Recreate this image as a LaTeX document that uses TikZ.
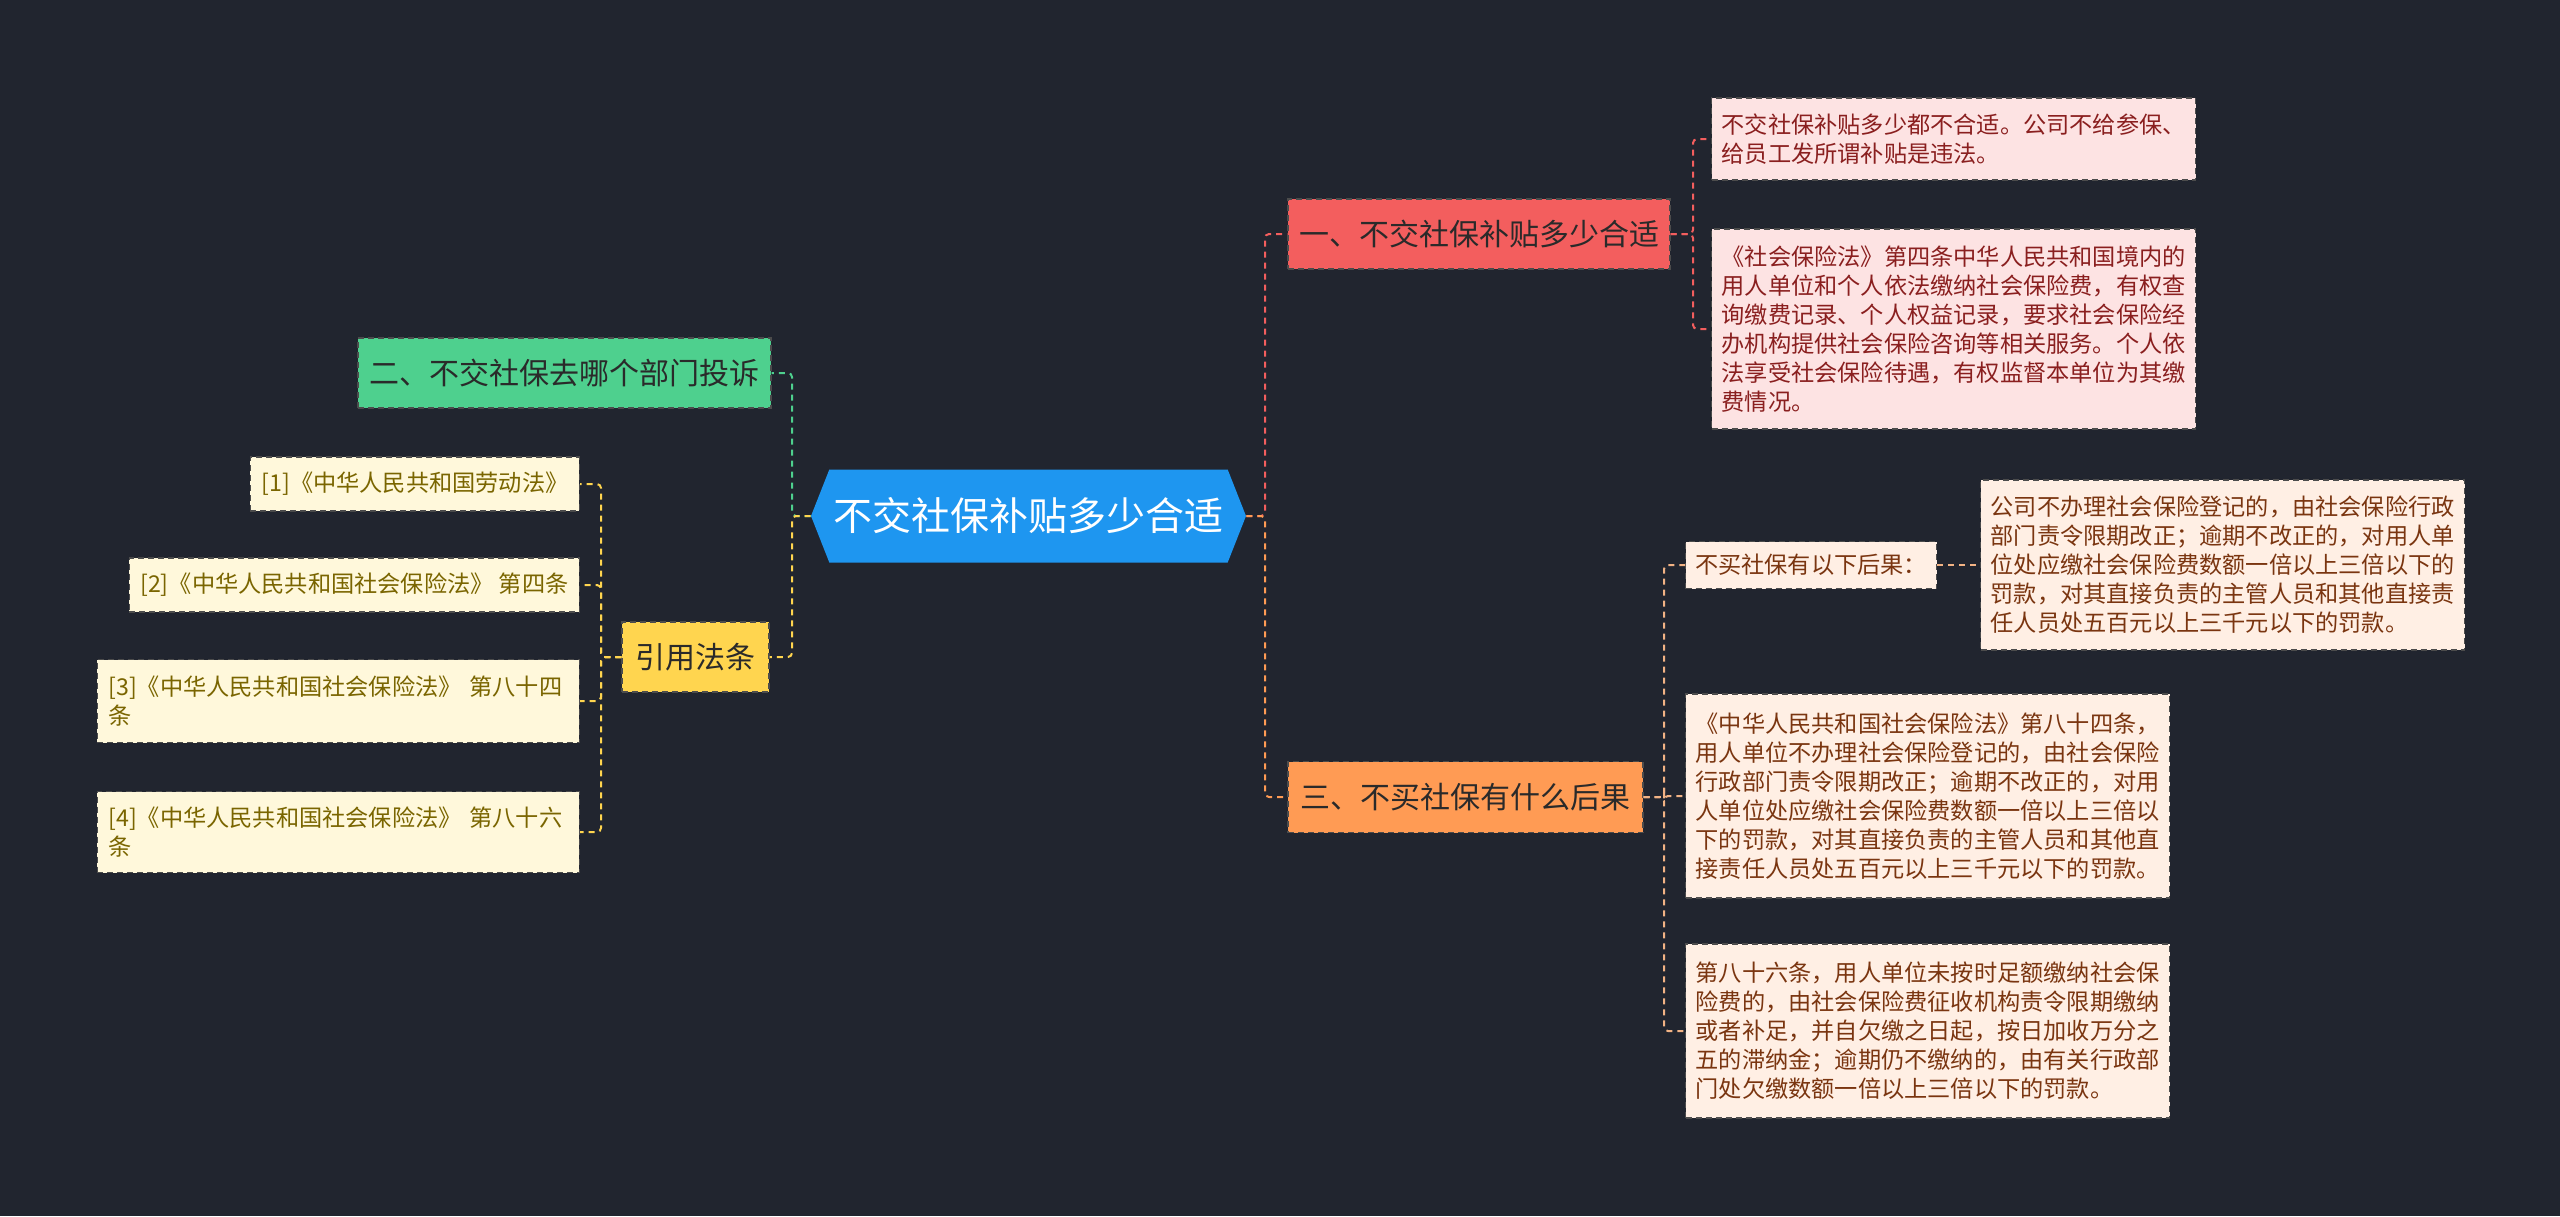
\documentclass[tikz,border=0pt]{standalone}
\usepackage{fontspec}
\setmainfont{Noto Sans CJK SC}
\usepackage{tikz}
\usetikzlibrary{shapes.symbols,positioning}
\definecolor{bg}{HTML}{21252F}
\definecolor{rootblue}{HTML}{1E96F0}
\definecolor{coral}{HTML}{F35E5E}
\definecolor{blush}{HTML}{FDE3E3}
\definecolor{wine}{HTML}{8A1F1F}
\definecolor{mint}{HTML}{4ED08E}
\definecolor{gold}{HTML}{FFD54F}
\definecolor{cream}{HTML}{FFF8DB}
\definecolor{olive}{HTML}{7A6500}
\definecolor{tangerine}{HTML}{FF9B54}
\definecolor{peach}{HTML}{FFEFE4}
\definecolor{rust}{HTML}{7A3510}
\definecolor{peachline}{HTML}{F2B385}
\definecolor{ink}{HTML}{2A2A2A}

\begin{document}
\begin{tikzpicture}[x=0.5pt,y=-0.5pt,
  box/.style={draw=black!70,dash pattern=on 3pt off 2pt,line width=0.6pt,inner sep=0pt,text=ink,font=\fontsize{15}{18}\selectfont},
  leaf/.style={draw=black!70,dash pattern=on 3pt off 2pt,line width=0.6pt,align=left,text width=232pt,inner xsep=5pt,inner ysep=0pt,font=\fontsize{11.6}{14.5}\selectfont},
  lawref/.style={draw=black!70,dash pattern=on 3pt off 2pt,line width=0.6pt,fill=cream,text=olive,align=left,inner xsep=5.5pt,inner ysep=0pt,anchor=east,font=\fontsize{11.6}{14.5}\selectfont},
  link/.style={dash pattern=on 3pt off 2.5pt,line width=1pt,rounded corners=2pt}]
\fill[bg] (0,0) rectangle (2560,1216);

% centre and first level
\node[shape=signal,signal to=east and west,signal pointer angle=137,fill=rootblue,minimum width=217.5pt,minimum height=46.5pt,inner sep=0pt,text=white,font=\fontsize{19.5}{22}\selectfont] (root) at (1028.5,516) {不交社保补贴多少合适};
\node[box,fill=coral,minimum width=191pt,minimum height=35pt] (b1) at (1479,234) {一、不交社保补贴多少合适};
\node[box,fill=mint,minimum width=206.5pt,minimum height=35pt] (b2) at (564.5,373) {二、不交社保去哪个部门投诉};
\node[box,fill=gold,minimum width=73.5pt,minimum height=35pt] (law) at (695.5,657) {引用法条};
\node[box,fill=tangerine,minimum width=177.5pt,minimum height=35.5pt] (b3) at (1465.5,797) {三、不买社保有什么后果};

% right, first branch
\node[leaf,fill=blush,text=wine,minimum height=41pt,anchor=west] (l1a) at (1711,139) {不交社保补贴多少都不合适。公司不给参保、\\给员工发所谓补贴是违法。};
\node[leaf,fill=blush,text=wine,minimum height=100pt,anchor=west] (l1b) at (1711,329) {《社会保险法》第四条中华人民共和国境内的\\用人单位和个人依法缴纳社会保险费，有权查\\询缴费记录、个人权益记录，要求社会保险经\\办机构提供社会保险咨询等相关服务。个人依\\法享受社会保险待遇，有权监督本单位为其缴\\费情况。};

% right, third branch
\node[box,fill=peach,text=rust,minimum width=125.5pt,minimum height=23.5pt,anchor=west,font=\fontsize{11.6}{14}\selectfont] (l3a) at (1685,565) {不买社保有以下后果：};
\node[leaf,fill=peach,text=rust,minimum height=85pt,anchor=west] (l3d) at (1980,565) {公司不办理社会保险登记的，由社会保险行政\\部门责令限期改正；逾期不改正的，对用人单\\位处应缴社会保险费数额一倍以上三倍以下的\\罚款，对其直接负责的主管人员和其他直接责\\任人员处五百元以上三千元以下的罚款。};
\node[leaf,fill=peach,text=rust,minimum height=102pt,anchor=west] (l3b) at (1685,796) {《中华人民共和国社会保险法》第八十四条，\\用人单位不办理社会保险登记的，由社会保险\\行政部门责令限期改正；逾期不改正的，对用\\人单位处应缴社会保险费数额一倍以上三倍以\\下的罚款，对其直接负责的主管人员和其他直\\接责任人员处五百元以上三千元以下的罚款。};
\node[leaf,fill=peach,text=rust,minimum height=87pt,anchor=west] (l3c) at (1685,1031) {第八十六条，用人单位未按时足额缴纳社会保\\险费的，由社会保险费征收机构责令限期缴纳\\或者补足，并自欠缴之日起，按日加收万分之\\五的滞纳金；逾期仍不缴纳的，由有关行政部\\门处欠缴数额一倍以上三倍以下的罚款。};

% left, cited laws
\node[lawref,minimum height=27pt] (r1) at (580,484) {[1]《中华人民共和国劳动法》};
\node[lawref,minimum height=27pt] (r2) at (580,585) {[2]《中华人民共和国社会保险法》 第四条};
\node[lawref,text width=230pt,minimum height=41.5pt] (r3) at (580,701) {[3]《中华人民共和国社会保险法》 第八十四\\条};
\node[lawref,text width=230pt,minimum height=40.5pt] (r4) at (580,832) {[4]《中华人民共和国社会保险法》 第八十六\\条};

% connectors
\coordinate (rj) at (1265,516);
\coordinate (lj) at (792,516);
\coordinate (j1) at (1693,234);
\coordinate (j3) at (1664,797);
\coordinate (jl) at (601,657);
\draw[link,coral] (root.east) -- (rj) |- (b1.west);
\draw[link,tangerine] (root.east) -- (rj) |- (b3.west);
\draw[link,mint] (root.west) -- (lj) |- (b2.east);
\draw[link,gold] (root.west) -- (lj) |- (law.east);
\draw[link,coral] (b1.east) -- (j1) |- (l1a.west);
\draw[link,coral] (b1.east) -- (j1) |- (l1b.west);
\foreach \n in {l3a,l3b,l3c} \draw[link,peachline] (b3.east) -- (j3) |- (\n.west);
\draw[link,peachline] (l3a.east) -- (l3d.west);
\foreach \n in {r1,r2,r3,r4} \draw[link,gold] (law.west) -- (jl) |- (\n.east);
\end{tikzpicture}
\end{document}
